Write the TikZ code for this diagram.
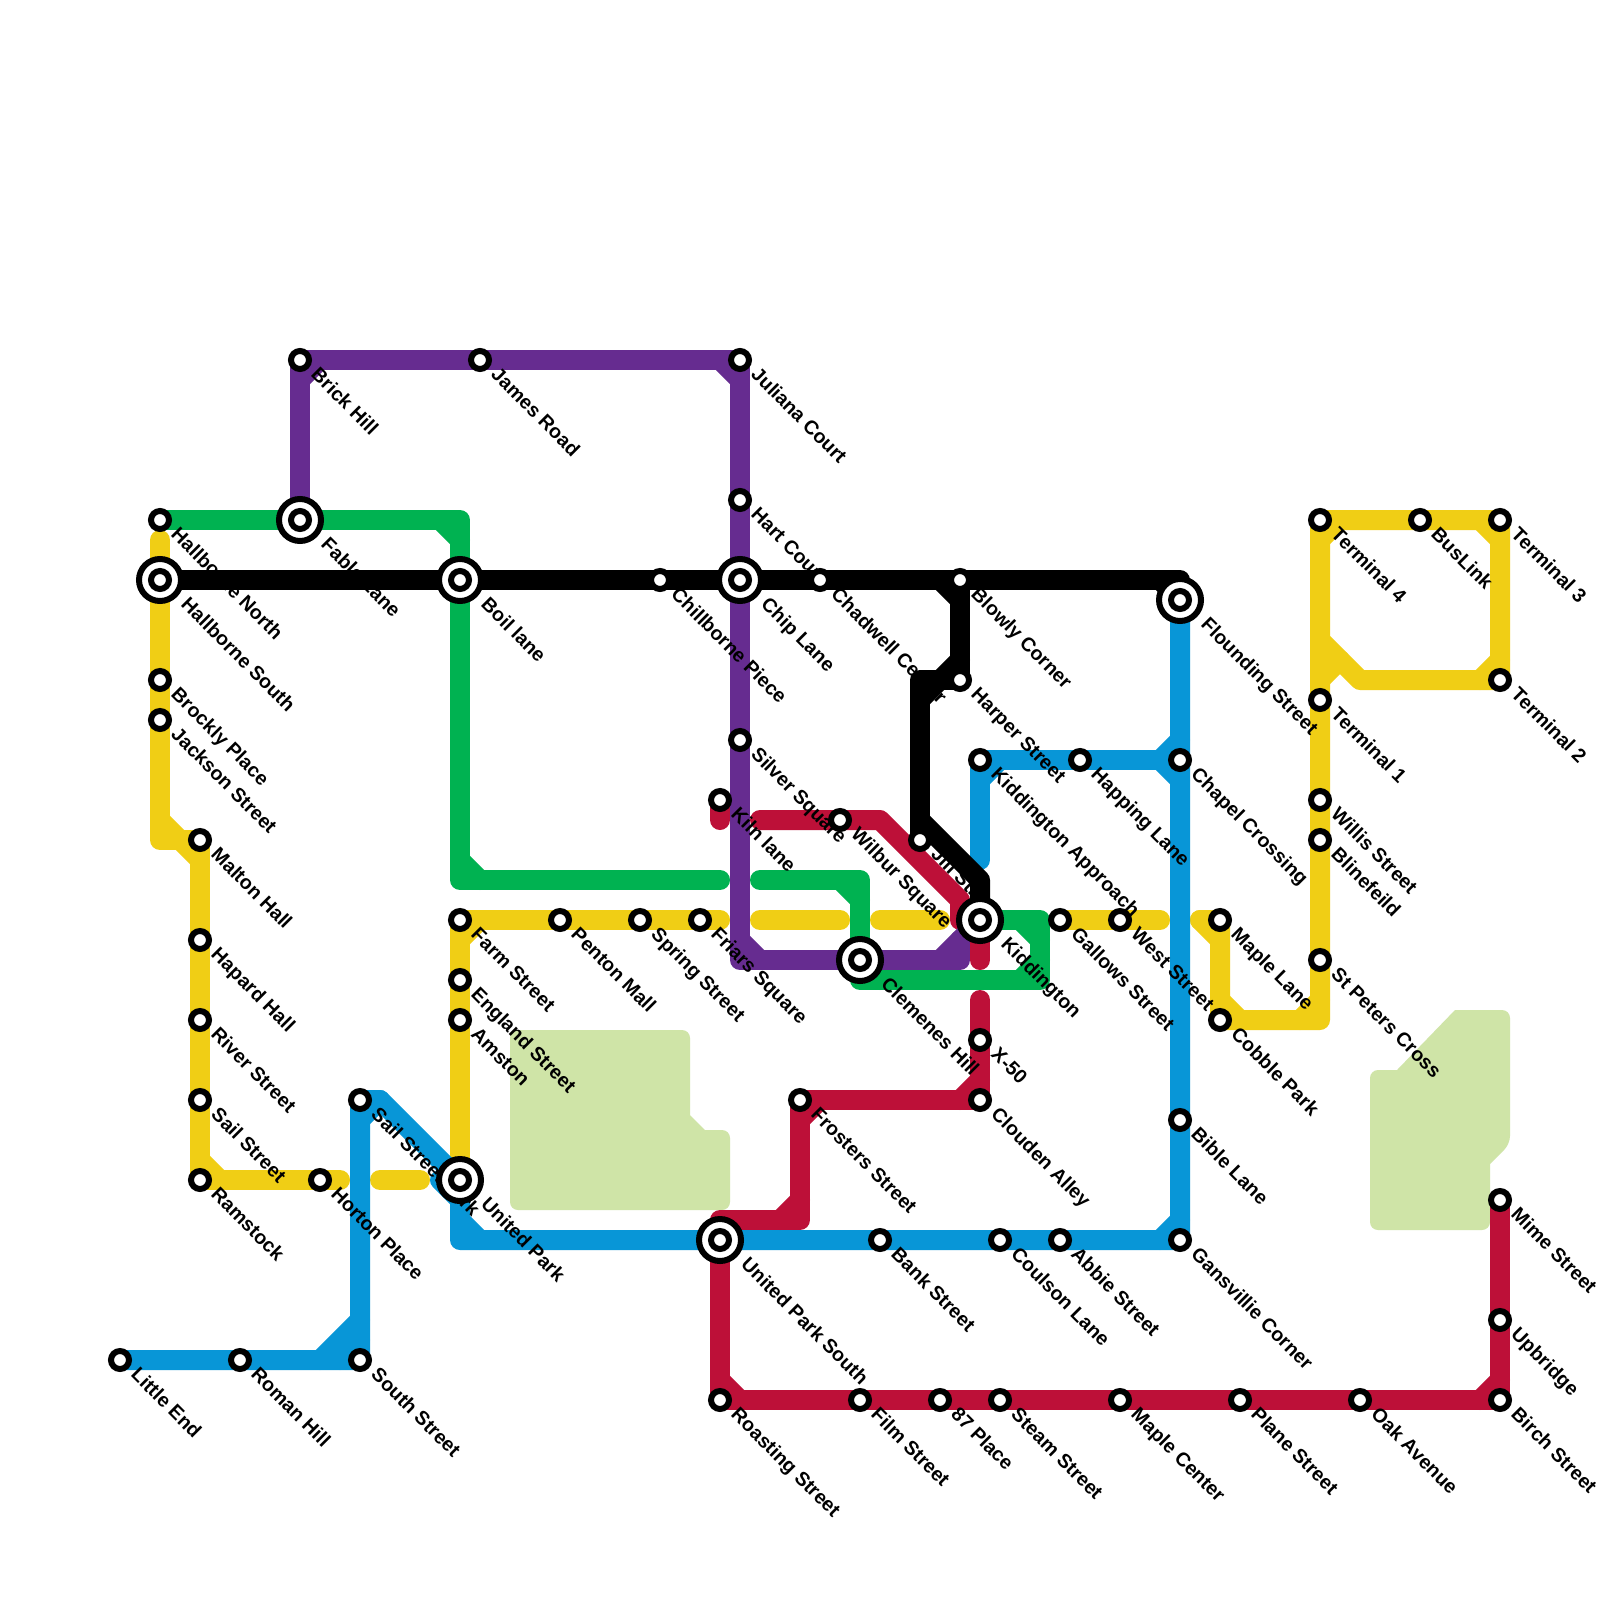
\documentclass[tikz,border=0pt]{standalone}
\usepackage{fontspec}
\setmainfont{Liberation Sans}
\definecolor{myyellow}{HTML}{F0CE15}
\definecolor{mygreen}{HTML}{00B251}
\definecolor{myblue}{HTML}{0896D7}
\definecolor{mypurple}{HTML}{662C90}
\definecolor{myred}{HTML}{BD1038}
\definecolor{mypark}{HTML}{CFE4A7}
\pgfdeclarelayer{parks}
\pgfdeclarelayer{routes}
\pgfdeclarelayer{labels}
\pgfsetlayers{parks,routes,labels,main}
\tikzset{
  smallstn/.style={circle,draw=black,fill=white,line width=6pt,minimum size=18pt,inner sep=0pt,outer sep=0pt},
  bigstn/.style={circle,draw=black,fill=white,line width=6pt,minimum size=42pt,inner sep=0pt,outer sep=0pt},
  bigcore/.style={circle,draw=black,fill=white,line width=6pt,minimum size=18pt,inner sep=0pt,outer sep=0pt},
  lbl/.style={anchor=mid west,rotate=-45,inner sep=0pt,outer sep=0pt,font=\bfseries\fontsize{19.6}{22}\selectfont,text=black},
  route/.style={line width=20pt,line cap=round,line join=round},
  parkfill/.style={fill=mypark,draw=none},
}
\newcommand\St[4]{%
  \node[smallstn] (#1) at (#2,#3) {};
  \begin{pgfonlayer}{labels}\node[lbl] (#1-l) at ([xshift=12pt,yshift=-14pt]#2,#3) {#4};\end{pgfonlayer}}
\newcommand\Bg[4]{%
  \node[bigstn] (#1) at (#2,#3) {};
  \node[bigcore] (#1-c) at (#2,#3) {};
  \begin{pgfonlayer}{labels}\node[lbl] (#1-l) at ([xshift=22pt,yshift=-24pt]#2,#3) {#4};\end{pgfonlayer}}
\begin{document}
\begin{tikzpicture}[x=1pt,y=-1pt]
\useasboundingbox (0,0) rectangle (1600,1600);
\begin{pgfonlayer}{parks}
\fill[white] (0,0) rectangle (1600,1600);
\fill[parkfill] [rounded corners=8pt] (510,1210) -- (510,1030) -- (690,1030) [sharp corners] -- (690,1115) -- (705,1130) [rounded corners=8pt] -- (730,1130) -- (730,1210) -- cycle;
\fill[parkfill] [rounded corners=8pt] (1370,1230) -- (1370,1070) [sharp corners] -- (1397,1070) -- (1455,1010) [rounded corners=8pt] -- (1510,1010) -- (1510,1144) [sharp corners] -- (1490,1164) [rounded corners=8pt] -- (1490,1230) -- cycle;
\end{pgfonlayer}
% stations
\St{littleend}{120}{1360}{Little End}
\St{romanhill}{240}{1360}{Roman Hill}
\St{southst}{360}{1360}{South Street}
\St{sailpark}{360}{1100}{Sail Street Park}
\Bg{unitedpark}{460}{1180}{United Park}
\St{horton}{320}{1180}{Horton Place}
\St{ramstock}{200}{1180}{Ramstock}
\St{sailst}{200}{1100}{Sail Street}
\St{riverst}{200}{1020}{River Street}
\St{hapard}{200}{940}{Hapard Hall}
\St{malton}{200}{840}{Malton Hall}
\St{jackson}{160}{720}{Jackson Street}
\St{brockly}{160}{680}{Brockly Place}
\Bg{hallsouth}{160}{580}{Hallborne South}
\St{hallnorth}{160}{520}{Hallborne North}
\Bg{fable}{300}{520}{Fable Lane}
\St{brick}{300}{360}{Brick Hill}
\St{james}{480}{360}{James Road}
\St{juliana}{740}{360}{Juliana Court}
\St{hart}{740}{500}{Hart Court}
\Bg{chip}{740}{580}{Chip Lane}
\Bg{boil}{460}{580}{Boil lane}
\St{chillborne}{660}{580}{Chillborne Piece}
\St{chadwell}{820}{580}{Chadwell Center}
\St{blowly}{960}{580}{Blowly Corner}
\St{harper}{960}{680}{Harper Street}
\Bg{flounding}{1180}{600}{Flounding Street}
\St{chapel}{1180}{760}{Chapel Crossing}
\St{happing}{1080}{760}{Happing Lane}
\St{kidapp}{980}{760}{Kiddington Approach}
\St{silver}{740}{740}{Silver Square}
\St{kiln}{720}{800}{Kiln lane}
\St{wilbur}{840}{820}{Wilbur Square}
\St{jill}{920}{840}{Jill Street}
\Bg{kiddington}{980}{920}{Kiddington}
\Bg{clemenes}{860}{960}{Clemenes Hill}
\St{farm}{460}{920}{Farm Street}
\St{penton}{560}{920}{Penton Mall}
\St{spring}{640}{920}{Spring Street}
\St{friars}{700}{920}{Friars Square}
\St{england}{460}{980}{England Street}
\St{amston}{460}{1020}{Amston}
\St{gallows}{1060}{920}{Gallows Street}
\St{westst}{1120}{920}{West Street}
\St{maplelane}{1220}{920}{Maple Lane}
\St{cobble}{1220}{1020}{Cobble Park}
\St{stpeters}{1320}{960}{St Peters Cross}
\St{blinefeild}{1320}{840}{Blinefeild}
\St{willis}{1320}{800}{Willis Street}
\St{termone}{1320}{700}{Terminal 1}
\St{termfour}{1320}{520}{Terminal 4}
\St{buslink}{1420}{520}{BusLink}
\St{termthree}{1500}{520}{Terminal 3}
\St{termtwo}{1500}{680}{Terminal 2}
\St{xfifty}{980}{1040}{X-50}
\St{clouden}{980}{1100}{Clouden Alley}
\St{frosters}{800}{1100}{Frosters Street}
\Bg{upsouth}{720}{1240}{United Park South}
\St{bank}{880}{1240}{Bank Street}
\St{coulson}{1000}{1240}{Coulson Lane}
\St{abbie}{1060}{1240}{Abbie Street}
\St{gansvillie}{1180}{1240}{Gansvillie Corner}
\St{bible}{1180}{1120}{Bible Lane}
\St{roasting}{720}{1400}{Roasting Street}
\St{film}{860}{1400}{Film Street}
\St{eightyseven}{940}{1400}{87 Place}
\St{steam}{1000}{1400}{Steam Street}
\St{maplecenter}{1120}{1400}{Maple Center}
\St{plane}{1240}{1400}{Plane Street}
\St{oak}{1360}{1400}{Oak Avenue}
\St{birch}{1500}{1400}{Birch Street}
\St{upbridge}{1500}{1320}{Upbridge}
\St{mime}{1500}{1200}{Mime Street}
% routes
\begin{pgfonlayer}{routes}
% red, first part
\draw[route,myred] (kiln.center) -- (720,820);
\draw[route,myred] (760,820) -- (wilbur.center) -- (880,820) -- (960,900) -- (960,920);
% yellow
\draw[route,myyellow] (160,540) -- (hallsouth.center) -- (brockly.center) -- (jackson.center) -- (160,840) -- (malton.center) -- (hapard.center) -- (riverst.center) -- (sailst.center) -- (ramstock.center) -- (horton.center) -- (340,1180);
\draw[route,myyellow] (160,820) -- (180,840) -- (200,860) (200,1160) -- (220,1180);
\draw[route,myyellow] (380,1180) -- (420,1180);
\draw[route,myyellow] (unitedpark.center) -- (amston.center) -- (england.center) -- (farm.center) -- (penton.center) -- (spring.center) -- (friars.center) -- (720,920);
\draw[route,myyellow] (460,940) -- (480,920);
\draw[route,myyellow] (760,920) -- (840,920);
\draw[route,myyellow] (880,920) -- (940,920);
\draw[route,myyellow] (gallows.center) -- (westst.center) -- (1160,920);
\draw[route,myyellow] (1200,920) -- (maplelane.center) -- (cobble.center) -- (1320,1020) -- (stpeters.center) -- (blinefeild.center) -- (willis.center) -- (termone.center) -- (termfour.center) -- (buslink.center) -- (termthree.center) -- (termtwo.center) -- (1360,680) -- (1320,640);
\draw[route,myyellow] (1200,920) -- (1220,940) (1220,1000) -- (1240,1020) (1300,1020) -- (1320,1000) (1320,540) -- (1340,520) (1480,520) -- (1500,540) (1500,660) -- (1480,680) (1320,680) -- (1340,660);
% green
\draw[route,mygreen] (hallnorth.center) -- (fable.center) -- (460,520) -- (boil.center) -- (460,880) -- (720,880);
\draw[route,mygreen] (440,520) -- (460,540) (460,860) -- (480,880);
\draw[route,mygreen] (760,880) -- (860,880) -- (clemenes.center) -- (860,980) -- (1040,980) -- (1040,920) -- (kiddington.center);
\draw[route,mygreen] (840,880) -- (860,900) (860,960) -- (880,980) (1020,980) -- (1040,960) (1020,920) -- (1040,940);
% blue
\draw[route,myblue] (littleend.center) -- (romanhill.center) -- (southst.center) -- (sailpark.center) -- (380,1100) -- (unitedpark.center) -- (460,1240) -- (upsouth.center) -- (bank.center) -- (coulson.center) -- (abbie.center) -- (gansvillie.center) -- (bible.center) -- (chapel.center) -- (flounding.center);
\draw[route,myblue] (320,1360) -- (360,1320) (340,1360) -- (360,1340) (360,1120) -- (380,1100) (440,1180) -- (460,1200) (460,1220) -- (480,1240) (1160,1240) -- (1180,1220);
\draw[route,myblue] (980,860) -- (kidapp.center) -- (happing.center) -- (chapel.center);
\draw[route,myblue] (980,780) -- (1000,760) (1160,760) -- (1180,740) (1160,760) -- (1180,780);
% purple
\draw[route,mypurple] (fable.center) -- (brick.center) -- (james.center) -- (juliana.center) -- (hart.center) -- (chip.center) -- (silver.center) -- (740,960) -- (clemenes.center) -- (960,960) -- (960,940);
\draw[route,mypurple] (300,380) -- (320,360) (720,360) -- (740,380) (740,940) -- (760,960) (940,960) -- (kiddington.center);
% black
\draw[route,black] (hallsouth.center) -- (boil.center) -- (chillborne.center) -- (chip.center) -- (chadwell.center) -- (blowly.center) -- (1180,580) -- (flounding.center);
\draw[route,black] (1160,580) -- (flounding.center);
\draw[route,black] (blowly.center) -- (harper.center) -- (920,680) -- (jill.center);
\draw[route,black] (940,580) -- (960,600) (940,680) -- (960,660) (920,700) -- (940,680);
\draw[route,black] (920,820) -- (980,880) -- (kiddington.center);
% red, second part
\draw[route,myred] (kiddington.center) -- (980,960);
\draw[route,myred] (980,1000) -- (xfifty.center) -- (clouden.center) -- (frosters.center) -- (800,1220) -- (720,1220) -- (upsouth.center) -- (roasting.center) -- (film.center) -- (eightyseven.center) -- (steam.center) -- (maplecenter.center) -- (plane.center) -- (oak.center) -- (birch.center) -- (upbridge.center) -- (mime.center);
\draw[route,myred] (960,1100) -- (980,1080) (800,1120) -- (820,1100) (780,1220) -- (800,1200) (720,1380) -- (740,1400) (1480,1400) -- (1500,1380);
\end{pgfonlayer}
\end{tikzpicture}
\end{document}
